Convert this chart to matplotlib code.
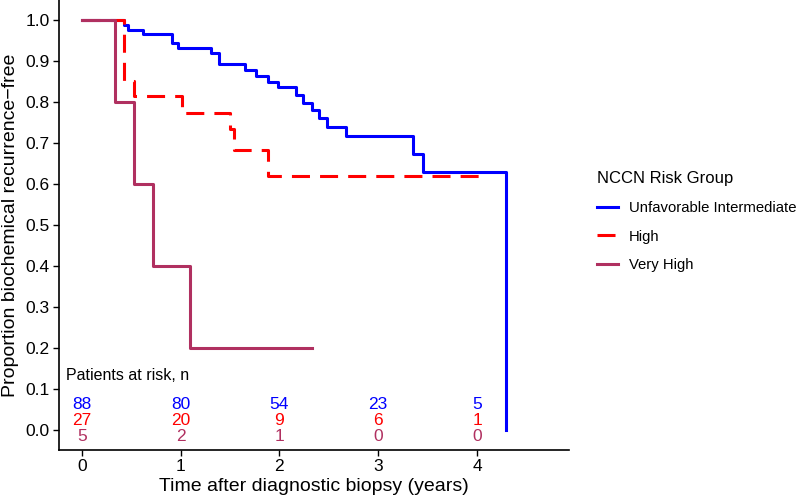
import matplotlib
matplotlib.use("Agg")
import matplotlib.pyplot as plt

plt.rcParams['font.family'] = ['Liberation Sans', 'DejaVu Sans']

# Kaplan-Meier curves (years, proportion)
blue_t = [0, 0.428, 0.468, 0.62, 0.913, 0.972, 1.307, 1.388, 1.65, 1.76, 1.884,
          1.985, 2.167, 2.237, 2.328, 2.399, 2.48, 2.67, 3.35, 3.45, 4.29]
blue_s = [1.0, 0.988, 0.976, 0.965, 0.943, 0.931, 0.919, 0.894, 0.878, 0.864, 0.85,
          0.836, 0.817, 0.798, 0.78, 0.76, 0.74, 0.717, 0.673, 0.63, 0.0]
red_t = [0, 0.431, 0.532, 1.01, 1.505, 1.54, 1.887, 4.05]
red_s = [1.0, 0.852, 0.815, 0.774, 0.735, 0.683, 0.62, 0.62]
purple_t = [0, 0.337, 0.529, 0.724, 1.095, 2.325]
purple_s = [1.0, 0.8, 0.6, 0.4, 0.2, 0.2]

groups = ["Unfavorable Intermediate", "High", "Very High"]
colors = ["#0000FF", "#FF0000", "#B03060"]

# patients at risk table
risk_years = [0, 1, 2, 3, 4]
risk_blue = [88, 80, 54, 23, 5]
risk_red = [27, 20, 9, 6, 1]
risk_purple = [5, 2, 1, 0, 0]

fig = plt.figure(figsize=(7.98, 5.0), dpi=100)
ax = fig.add_axes([0.0736, 0.1, 0.6394, 0.9])

ax.step(blue_t, blue_s, where='post', color=colors[0], lw=2.2, label=groups[0])
ax.step(red_t, red_s, where='post', color=colors[1], lw=2.2, dashes=(5.9, 3.3), label=groups[1])
ax.step(purple_t, purple_s, where='post', color=colors[2], lw=2.2, label=groups[2])

fs = 12.5
ax.text(-0.16, 0.134, "Patients at risk, n", fontsize=11.5, va='center', ha='left')
for yr, b, r, p in zip(risk_years, risk_blue, risk_red, risk_purple):
    ax.text(yr, 0.063, str(b), color=colors[0], fontsize=fs, ha='center', va='center')
    ax.text(yr, 0.023, str(r), color=colors[1], fontsize=fs, ha='center', va='center')
    ax.text(yr, -0.016, str(p), color=colors[2], fontsize=fs, ha='center', va='center')

ax.set_xlim(-0.233, 4.93)
ax.set_ylim(-0.049, 1.049)
ax.set_xticks([0, 1, 2, 3, 4])
ax.set_yticks([i / 10 for i in range(11)])
ax.set_yticklabels(["%.1f" % (i / 10) for i in range(11)])
ax.tick_params(labelsize=fs, length=4, width=1, direction='out', pad=2.5)
for s in ['top', 'right']:
    ax.spines[s].set_visible(False)
for s in ['left', 'bottom']:
    ax.spines[s].set_linewidth(1.2)

ax.set_xlabel("Time after diagnostic biopsy (years)", fontsize=14, labelpad=3)
ax.set_ylabel("Proportion biochemical recurrence\u2212free", fontsize=14, labelpad=5)

leg = fig.legend(loc='upper left', bbox_to_anchor=(0.731, 0.685), frameon=False,
                 title="NCCN Risk Group", fontsize=10.7, title_fontsize=12,
                 handlelength=1.4, handletextpad=0.75, labelspacing=1.0)
leg._legend_box.align = "left"

fig.savefig("out.png", dpi=100)
